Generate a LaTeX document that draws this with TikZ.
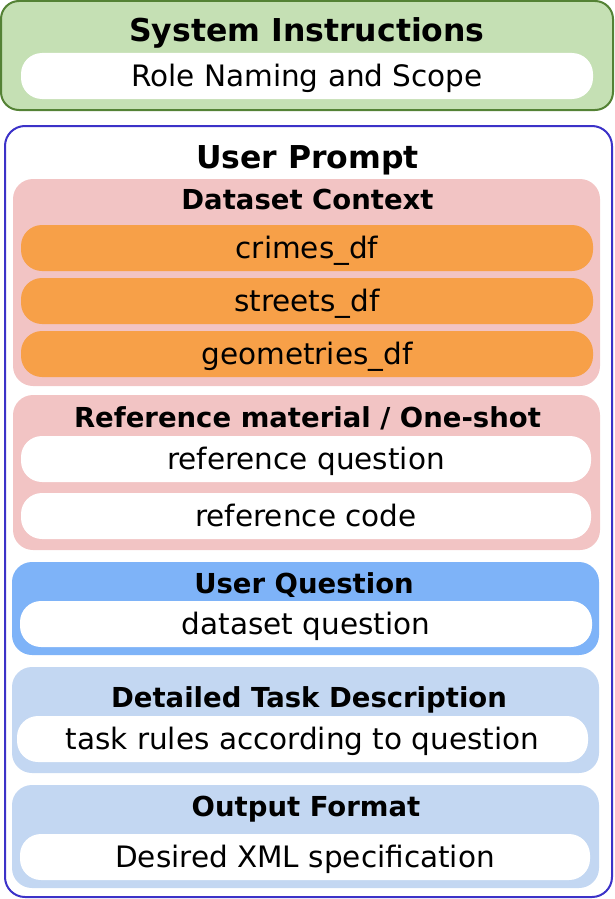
\documentclass[tikz,border=0pt]{standalone}
\usepackage{fontspec}
\setmainfont{DejaVu Sans}
\definecolor{sysgreen}{RGB}{197, 224, 180}
\definecolor{sysedge}{RGB}{84, 130, 53}
\definecolor{promptedge}{RGB}{60, 50, 200}
\definecolor{ctxpink}{RGB}{242, 196, 196}
\definecolor{dforange}{RGB}{247, 160, 72}
\definecolor{qblue}{RGB}{126, 179, 248}
\definecolor{taskblue}{RGB}{195, 215, 242}
\usetikzlibrary{positioning}

\tikzset{
  panel/.style={rounded corners=20pt, inner sep=0pt, minimum width=587pt},
  pill/.style={rounded corners=21pt, inner sep=0pt, minimum width=572pt, minimum height=46pt,
    text height=21.5pt, text depth=0pt, font=\fontsize{29.5}{32}\selectfont},
  headline/.style={inner sep=0pt, text height=23pt, text depth=0pt,
    font=\fontsize{31.5}{34}\selectfont\bfseries},
  subhead/.style={inner sep=0pt, text height=20pt, text depth=0pt,
    font=\fontsize{27.5}{30}\selectfont\bfseries}
}

\begin{document}
\begin{tikzpicture}[x=1pt, y=-1pt]
  \useasboundingbox (0,0) rectangle (615,899);

  % System instructions
  \node[draw=sysedge, line width=2pt, fill=sysgreen, rounded corners=18pt,
    minimum width=612pt, minimum height=109pt] (sysbox) at (307,55.5) {};
  \node[headline] (systitle) at (307,30) {System Instructions};
  \node[pill, fill=white] (rolepill) at (307,76) {Role Naming and Scope};

  % User prompt frame
  \node[draw=promptedge, line width=2pt, rounded corners=20pt,
    minimum width=607pt, minimum height=771pt] (promptbox) at (308.5,511.5) {};
  \node[headline] (prompttitle) at (307.5,157) {User Prompt};

  % Dataset context
  \node[panel, fill=ctxpink, minimum height=207pt] (ctxbox) at (306.5,282.5) {};
  \node[subhead] (ctxtitle) at (307.5,199.5) {Dataset Context};
  \node[pill, fill=dforange] (crimes) at (307,248) {crimes\_df};
  \node[pill, fill=dforange] (streets) at (307,301) {streets\_df};
  \node[pill, fill=dforange] (geoms) at (307,354) {geometries\_df};

  % One-shot material
  \node[panel, fill=ctxpink, minimum height=155pt] (refbox) at (306.5,472.5) {};
  \node[subhead] (reftitle) at (307.5,417) {Reference material / One-shot};
  \node[pill, fill=white, minimum width=570pt] (refq) at (306,459) {reference question};
  \node[pill, fill=white, minimum width=570pt] (refc) at (306,516) {reference code};

  % User question
  \node[panel, fill=qblue, minimum height=93pt] (qbox) at (305.5,608.5) {};
  \node[subhead] (qtitle) at (304,583) {User Question};
  \node[pill, fill=white] (dsq) at (306,624) {dataset question};

  % Task description
  \node[panel, fill=taskblue, minimum height=106pt] (taskbox) at (305.5,720) {};
  \node[subhead] (tasktitle) at (309,697.5) {Detailed Task Description};
  \node[pill, fill=white, minimum width=571pt] (rules) at (302.5,739) {task rules according to question};

  % Output format
  \node[panel, fill=taskblue, minimum height=103pt] (outbox) at (305.5,836.5) {};
  \node[subhead] (outtitle) at (306,806.5) {Output Format};
  \node[pill, fill=white, minimum width=570pt] (xmlspec) at (305,857) {Desired XML specification};
\end{tikzpicture}
\end{document}
